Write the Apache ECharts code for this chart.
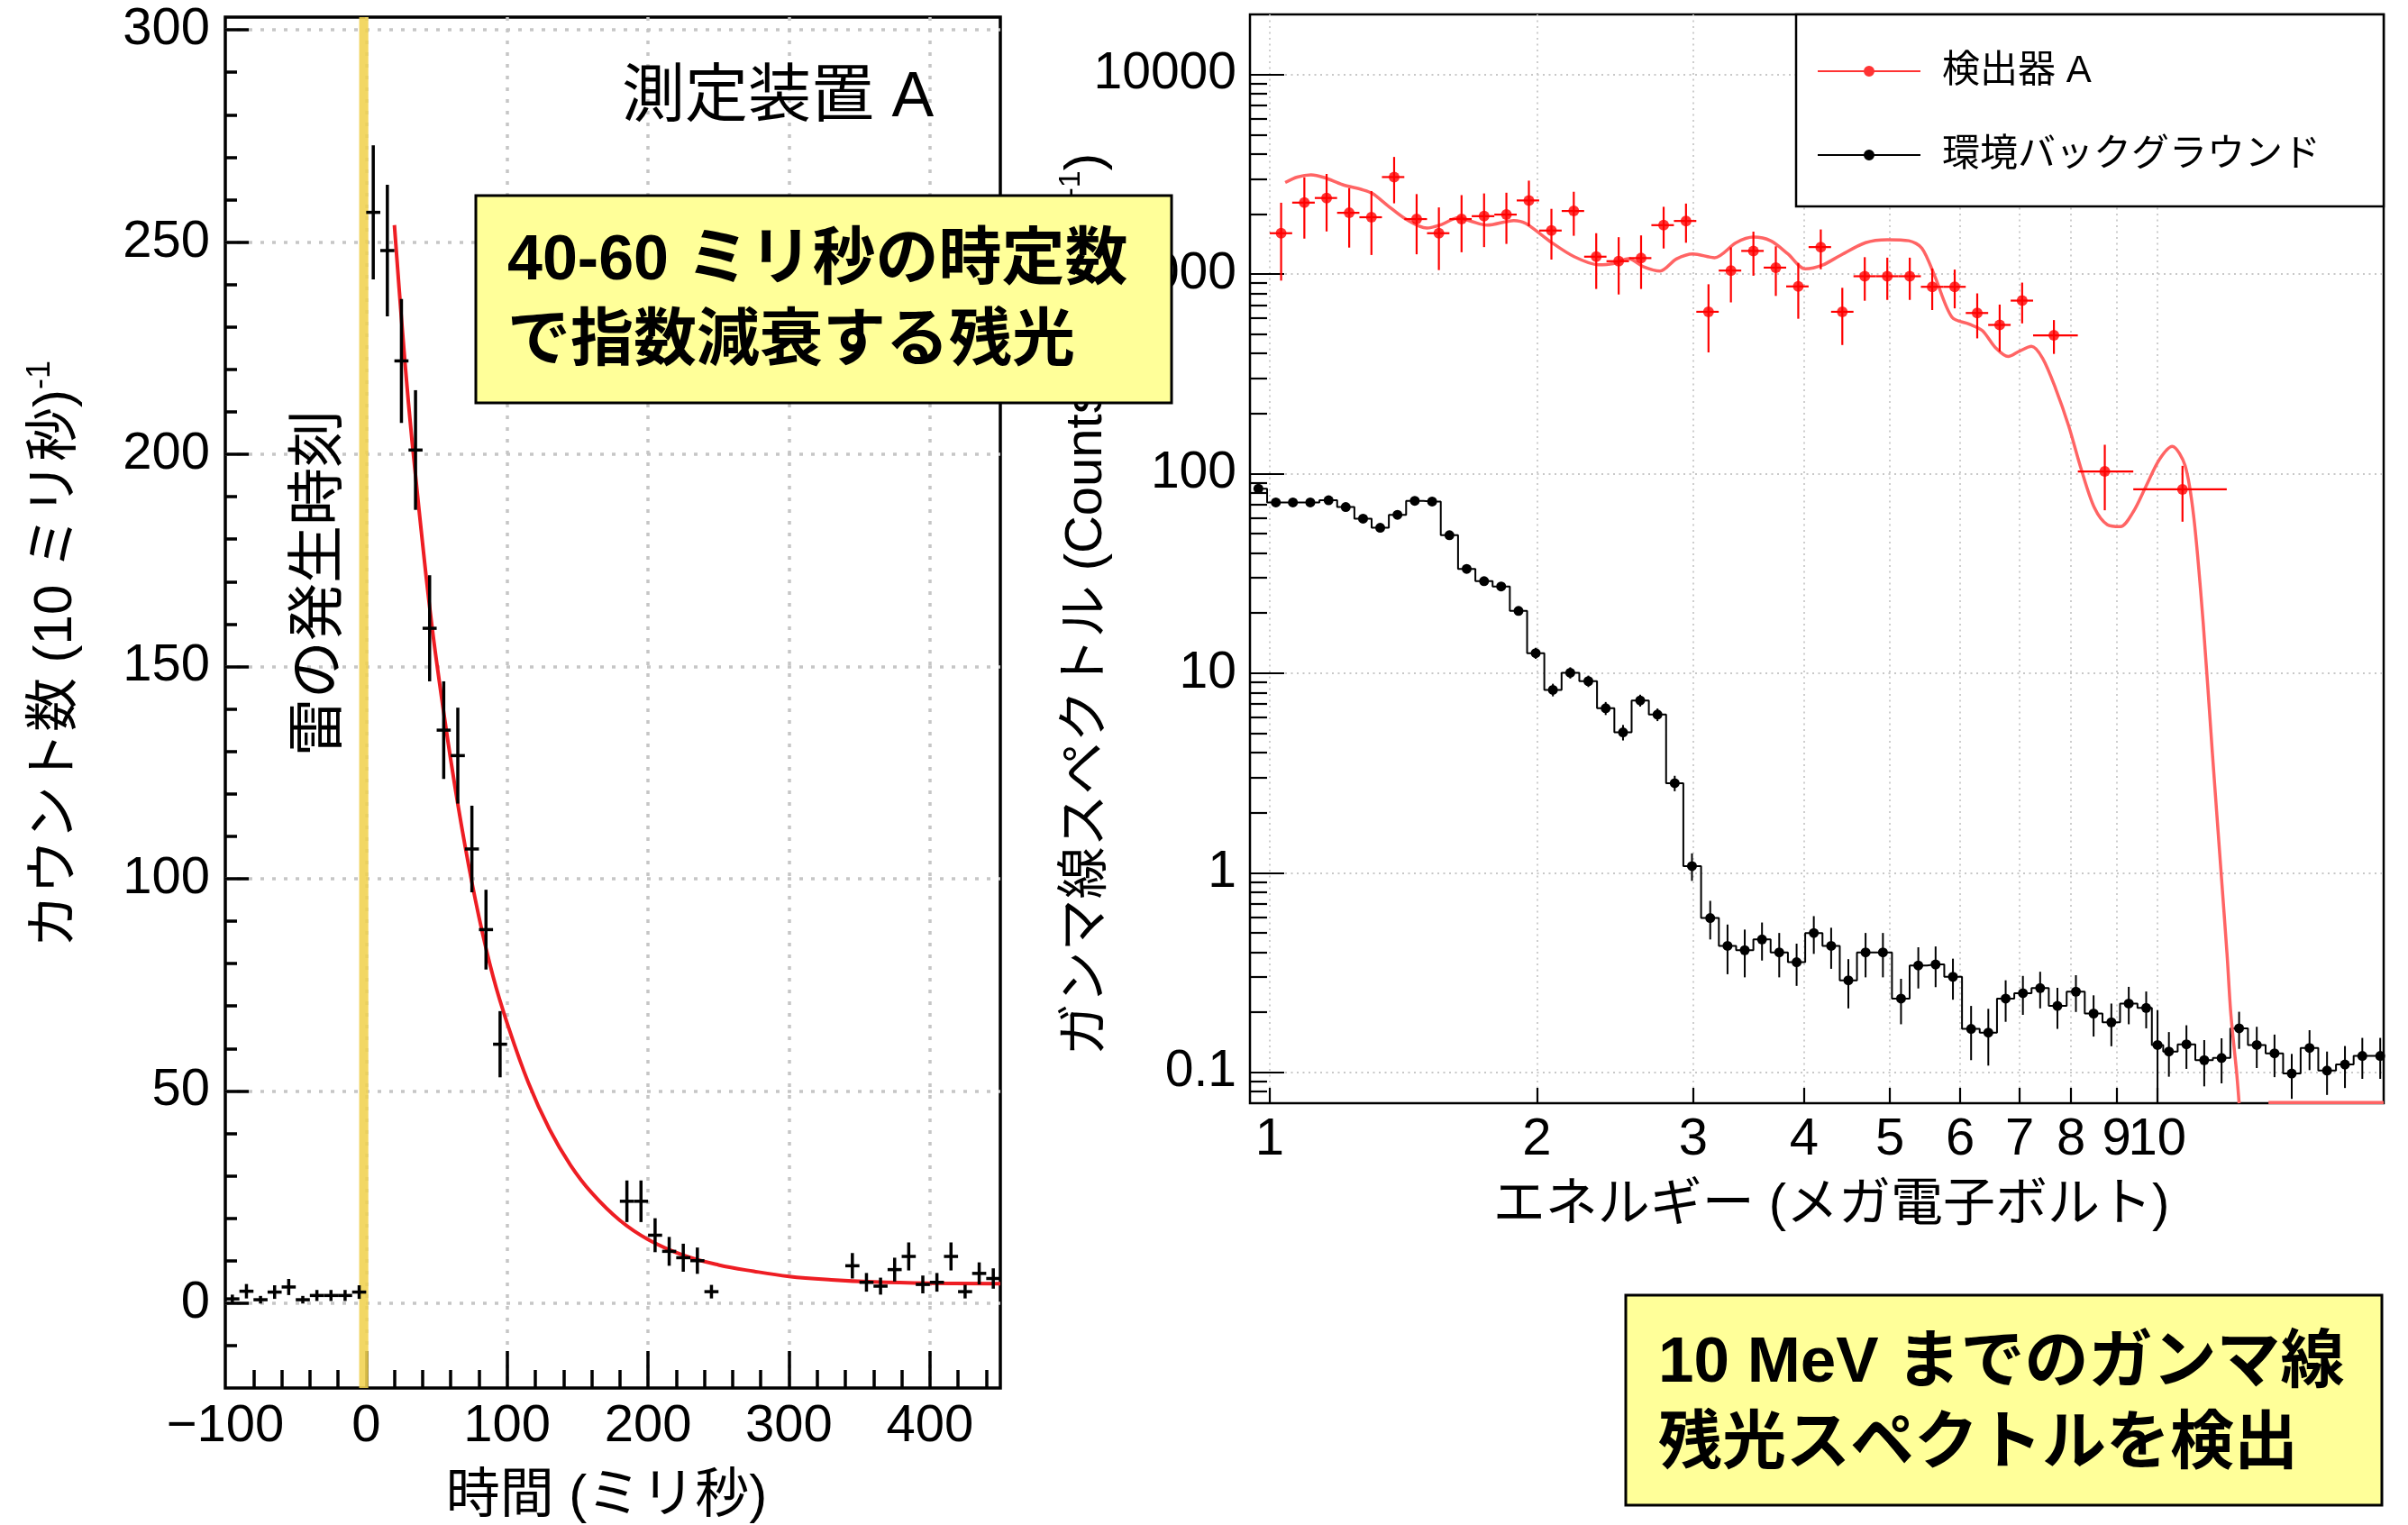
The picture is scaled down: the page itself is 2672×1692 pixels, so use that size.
<!DOCTYPE html>
<html>
<head>
<meta charset="utf-8">
<script src="https://cdn.jsdelivr.net/npm/echarts@6/dist/echarts.min.js"></script>
<style>
html,body{margin:0;padding:0;background:#fff;}
#c{width:2672px;height:1692px;}
</style>
</head>
<body>
<div id="c"></div>
<script>
// ---------- Left panel: light curve (time in ms, counts per 10 ms) ----------
const timeX = [-95,-85,-75,-65,-55,-45,-35,-25,-15,-5, 5,15,25,35,45,55,65,75,85,95, 185,195,205,215,225,235,245, 345,355,365,375,385,395,405,415,425,435,445];
const timeCounts = [1.0,2.8,0.8,2.6,3.8,0.8,1.8,1.8,1.8,2.6, 257,248,222,201,159,135,129,107,88,61, 24,24,16,12.2,10.7,10.0,2.7, 8.8,4.9,4.0,7.9,11.0,4.4,4.9,11.0,2.7,7.0,5.8];
const timeErr = [1.0,1.7,0.9,1.6,1.9,0.9,1.3,1.3,1.3,1.6, 15.8,15.5,14.6,14.1,12.5,11.5,11.3,10.2,9.4,7.8, 4.9,4.9,4.0,3.4,3.3,3.1,1.6, 3.0,2.2,2.0,2.8,3.3,2.1,2.2,3.3,1.6,2.6,2.4];
const BIN_HALF = 5; // 10 ms bins
const fitX = [20,25,30,35,40,45,50,60,70,80,90,100,115,130,145,160,180,200,225,250,275,300,330,360,400,450];
const fitY = [254,232,212,195,179,164,151,128,108,91,77,66,52,41,32.5,26,19.5,15,11.3,9,7.5,6.3,5.5,5.0,4.7,4.6];
const lightningBand = [-5, 1.5];
const leftXLabels = [-100,0,100,200,300,400];
const leftXMajor = [0,100,200,300,400];
const leftXMinor = [-80,-60,-40,-20,20,40,60,80,120,140,160,180,220,240,260,280,320,340,360,380,420,440];
const leftYMajor = [0,50,100,150,200,250,300];
const leftYMinor = [-10,10,20,30,40,60,70,80,90,110,120,130,140,160,170,180,190,210,220,230,240,260,270,280,290];

// ---------- Right panel: spectrum (MeV) ----------
const detE = [1.03,1.094,1.159,1.229,1.302,1.381,1.464,1.551,1.645,1.744,1.848,1.959,2.077,2.201,2.333,2.473,2.621,2.779,2.945,3.122,3.309,3.508,3.718,3.941,4.178,4.418,4.683,4.965,5.263,5.579,5.914,6.270,6.646,7.045,7.65,8.73,10.68];
const detELo = [1.000,1.060,1.124,1.191,1.262,1.338,1.418,1.504,1.594,1.689,1.791,1.898,2.012,2.133,2.261,2.396,2.540,2.692,2.854,3.025,3.206,3.399,3.603,3.819,4.048,4.291,4.548,4.821,5.110,5.417,5.741,6.086,6.451,6.838,7.248,8.14,9.40];
const detEHi = [1.060,1.124,1.191,1.262,1.338,1.418,1.504,1.594,1.689,1.791,1.898,2.012,2.133,2.261,2.396,2.540,2.692,2.854,3.025,3.206,3.399,3.603,3.819,4.048,4.291,4.548,4.821,5.110,5.417,5.741,6.086,6.451,6.838,7.248,8.14,9.40,11.98];
const detCounts = [1602,2280,2405,2027,1926,3062,1886,1602,1886,1950,1986,2338,1652,2070,1222,1160,1202,1758,1845,647,1041,1306,1077,867,1365,647,975,975,975,863,863,638,556,736,493,102.5,83.4];
const detErr = [675,775,770,670,680,800,630,555,600,585,570,600,470,515,380,370,360,415,410,242,320,325,300,270,308,206,240,233,233,203,190,162,147,170,95,37,26];

const curveE = [1.041,1.074,1.113,1.152,1.207,1.275,1.306,1.358,1.423,1.503,1.562,1.631,1.689,1.757,1.884,1.944,2.070,2.203,2.345,2.438,2.536,2.636,2.753,2.872,2.999,3.172,3.354,3.508,3.668,3.836,4.012,4.197,4.389,4.693,4.965,5.251,5.432,5.617,5.873,6.142,6.353,6.570,6.795,6.996,7.218,7.430,7.684,7.947,8.219,8.500,8.790,9.090,9.401,9.723,10.06,10.40,10.75,11.00,11.27,11.54,11.82,11.99,12.11,12.29,12.37,12.9,13.35,18.0];
const curveY = [2877,3061,3140,3044,2808,2637,2530,2204,1886,1699,1771,1917,1834,1758,1854,1790,1456,1222,1113,1128,1193,1090,1035,1189,1262,1208,1436,1531,1468,1262,1062,1109,1236,1436,1486,1468,1347,974,607,561,521,429,386,411,434,378,267,174,104,67.3,55.4,54.2,64.4,87.1,117.8,137,110,60,17.8,4.0,0.93,0.388,0.194,0.10,0.07,null,0.0705,0.0705];

const bgE = [0.971,1.016,1.062,1.111,1.165,1.218,1.274,1.332,1.393,1.457,1.524,1.594,1.667,1.744,1.823,1.907,1.994,2.085,2.181,2.286,2.391,2.501,2.615,2.735,2.860,2.991,3.136,3.280,3.430,3.587,3.751,3.924,4.103,4.292,4.488,4.693,4.909,5.145,5.381,5.628,5.887,6.171,6.453,6.750,7.059,7.382,7.72,8.10,8.48,8.88,9.29,9.72,10.01,10.31,10.79,11.30,11.82,12.37,12.95,13.56,14.18,14.85,15.54,16.28,17.03,17.84];
const bgCounts = [84.0,71.7,71.7,71.7,73.5,68.0,59.5,53.5,62.2,73.0,72.5,49.1,33.3,28.9,27.2,20.5,12.6,8.25,10.05,9.12,6.67,5.05,7.3,6.2,2.81,1.08,0.593,0.430,0.409,0.463,0.399,0.356,0.499,0.430,0.289,0.399,0.399,0.234,0.343,0.347,0.301,0.165,0.158,0.234,0.249,0.264,0.215,0.2535,0.197,0.178,0.221,0.210,0.137,0.127,0.138,0.115,0.118,0.166,0.137,0.1245,0.0986,0.1325,0.102,0.1094,0.1207,0.1207];
const bgErr = [2.5,2,2,2,2,2,1.8,1.7,1.8,2,2,1.5,1.2,1.1,1.1,1.0,0.8,0.6,0.65,0.6,0.5,0.45,0.5,0.45,0.25,0.17,0.13,0.12,0.11,0.10,0.10,0.085,0.107,0.10,0.08,0.10,0.10,0.06,0.08,0.08,0.07,0.05,0.05,0.055,0.055,0.055,0.05,0.053,0.046,0.043,0.047,0.044,0.068,0.032,0.034,0.03,0.03,0.035,0.032,0.03,0.025,0.03,0.025,0.026,0.028,0.028];

const rightXTicks = [1,2,3,4,5,6,7,8,9,10];
const rightXLabelsA = [1,2,3,4,5,6,7,8,9];
const rightXLabelsB = [10];
const rightYMajor = [0.1,1,10,100,1000,10000];
const rightYMinor = [0.08,0.09,0.2,0.3,0.4,0.5,0.6,0.7,0.8,0.9,2,3,4,5,6,7,8,9,20,30,40,50,60,70,80,90,200,300,400,500,600,700,800,900,2000,3000,4000,5000,6000,7000,8000,9000];

// ---------- styling ----------
const FONT_L = "'Liberation Sans', Arial, 'Noto Sans CJK JP', sans-serif";
const FONT_R = "'Liberation Sans Narrow', 'Arial Narrow', 'Liberation Sans', 'Noto Sans CJK JP', sans-serif";
const FONT_JPB = "'Liberation Sans', 'Noto Sans CJK JP', sans-serif";

function makeErrRender(color, width, drawX) {
  return function (params, api) {
    const cs = params.coordSys;
    const x = api.value(0), y = api.value(1);
    const c = api.coord([x, y]);
    const lo = api.coord([x, api.value(4)]);
    const hi = api.coord([x, api.value(5)]);
    const cy = v => Math.max(cs.y, Math.min(cs.y + cs.height, v));
    const cx = v => Math.max(cs.x, Math.min(cs.x + cs.width, v));
    const st = {stroke: color, lineWidth: width};
    const children = [{type: 'line', shape: {x1: c[0], y1: cy(lo[1]), x2: c[0], y2: cy(hi[1])}, style: st}];
    if (drawX) {
      const l = api.coord([api.value(2), y]);
      const r = api.coord([api.value(3), y]);
      children.push({type: 'line', shape: {x1: cx(l[0]), y1: c[1], x2: cx(r[0]), y2: c[1]}, style: st});
    }
    return {type: 'group', children: children};
  };
}

const leftCross = timeX.map((x, i) => [x, timeCounts[i], x - BIN_HALF, x + BIN_HALF, timeCounts[i] - timeErr[i], timeCounts[i] + timeErr[i]]);
const fitData = fitX.map((x, i) => [x, fitY[i]]);
const detData = detE.map((e, i) => [e, detCounts[i], detELo[i], detEHi[i], Math.max(detCounts[i] - detErr[i], 1e-4), detCounts[i] + detErr[i]]);
const detPts = detE.map((e, i) => [e, detCounts[i]]);
const curveData = curveE.map((e, i) => [e, curveY[i]]);
const bgData = bgE.map((e, i) => [e, bgCounts[i]]);
const bgErrData = bgE.map((e, i) => [e, bgCounts[i], e, e, Math.max(bgCounts[i] - bgErr[i], 1e-4), bgCounts[i] + bgErr[i]]);

const gridL = {color: '#c6c6c6', width: 3.5, type: [4, 9]};
const gridR = {color: '#c8c8c8', width: 1.8, type: [2, 4.5]};
const fmtMinus = v => (v < 0 ? '\u2212' + (-v) : String(v));
const fmtLog = v => String(+Number(v).toPrecision(6));
const legendIcon = 'path://M0,9L114,9L114,11L0,11Z M63,10A6,6 0 1 1 51,10A6,6 0 1 1 63,10Z';
const noLine = {show: false, onZero: false};

const chart = echarts.init(document.getElementById('c'), null, {renderer: 'canvas', width: 2672, height: 1692});

const option = {
  animation: false,
  backgroundColor: '#ffffff',
  grid: [
    {left: 250, top: 19, width: 860, height: 1521, show: true, borderColor: '#000', borderWidth: 3.5, backgroundColor: 'transparent', containLabel: false, outerBoundsMode: 'none'},
    {left: 1387, top: 16, width: 1258, height: 1208, show: true, borderColor: '#000', borderWidth: 2.5, backgroundColor: 'transparent', containLabel: false, outerBoundsMode: 'none'}
  ],
  xAxis: [
    {gridIndex: 0, type: 'value', position: 'bottom', min: -100, max: 450,
      axisLine: noLine,
      axisTick: {show: true, inside: true, length: 41, customValues: leftXMajor, lineStyle: {color: '#000', width: 3.5}},
      axisLabel: {show: true, customValues: leftXLabels, formatter: fmtMinus, fontSize: 58, fontFamily: FONT_L, color: '#000', margin: 14, hideOverlap: false},
      splitLine: {show: true, lineStyle: gridL}},
    {gridIndex: 0, type: 'value', position: 'bottom', min: -100, max: 450,
      axisLine: noLine,
      axisTick: {show: true, inside: true, length: 20, customValues: leftXMinor, lineStyle: {color: '#000', width: 3.5}},
      axisLabel: {show: false}, splitLine: {show: false}},
    {gridIndex: 1, type: 'log', logBase: 10, position: 'bottom', min: 0.95, max: 18,
      axisLine: noLine,
      axisTick: {show: true, inside: true, length: 17, customValues: rightXTicks, lineStyle: {color: '#000', width: 2.2}},
      axisLabel: {show: true, customValues: rightXLabelsA, formatter: fmtLog, fontSize: 58, fontFamily: FONT_R, color: '#000', margin: 12, hideOverlap: false},
      splitLine: {show: true, lineStyle: gridR}, minorTick: {show: false}, minorSplitLine: {show: false}},
    {gridIndex: 1, type: 'log', logBase: 10, position: 'bottom', min: 0.95, max: 18,
      axisLine: noLine,
      axisTick: {show: false},
      axisLabel: {show: true, customValues: rightXLabelsB, formatter: fmtLog, fontSize: 58, fontFamily: FONT_R, color: '#000', margin: 12, hideOverlap: false},
      splitLine: {show: false}}
  ],
  yAxis: [
    {gridIndex: 0, type: 'value', position: 'left', min: -20, max: 303,
      axisLine: noLine,
      axisTick: {show: true, inside: true, length: 26, customValues: leftYMajor, lineStyle: {color: '#000', width: 3.5}},
      axisLabel: {show: true, customValues: leftYMajor, formatter: fmtMinus, fontSize: 58, fontFamily: FONT_L, color: '#000', margin: 17, hideOverlap: false},
      splitLine: {show: true, lineStyle: gridL}},
    {gridIndex: 0, type: 'value', position: 'left', min: -20, max: 303,
      axisLine: noLine,
      axisTick: {show: true, inside: true, length: 13, customValues: leftYMinor, lineStyle: {color: '#000', width: 3.5}},
      axisLabel: {show: false}, splitLine: {show: false}},
    {gridIndex: 1, type: 'log', logBase: 10, position: 'left', min: 0.07, max: 20000,
      axisLine: noLine,
      axisTick: {show: true, inside: true, length: 38, customValues: rightYMajor, lineStyle: {color: '#000', width: 2.2}},
      axisLabel: {show: true, customValues: rightYMajor, formatter: fmtLog, fontSize: 57, fontFamily: FONT_R, color: '#000', margin: 15, hideOverlap: false},
      splitLine: {show: true, lineStyle: gridR}, minorTick: {show: false}, minorSplitLine: {show: false}},
    {gridIndex: 1, type: 'log', logBase: 10, position: 'left', min: 0.07, max: 20000,
      axisLine: noLine,
      axisTick: {show: true, inside: true, length: 19, customValues: rightYMinor, lineStyle: {color: '#000', width: 2.2}},
      axisLabel: {show: false}, splitLine: {show: false}}
  ],
  legend: {
    show: true, orient: 'vertical', left: 2017, top: 57, padding: 0,
    itemWidth: 114, itemHeight: 20, itemGap: 49, selectedMode: false,
    textStyle: {fontSize: 42, fontFamily: FONT_R, color: '#000', lineHeight: 44, padding: [0, 0, 0, 19]},
    data: [{name: '検出器 A', icon: legendIcon}, {name: '環境バックグラウンド', icon: legendIcon}]
  },
  series: [
    {name: '指数関数フィット', type: 'line', xAxisIndex: 0, yAxisIndex: 0, data: fitData,
      smooth: 0.4, showSymbol: false, symbol: 'none', z: 3,
      lineStyle: {color: '#ee1d23', width: 4}, itemStyle: {color: '#ee1d23'},
      markArea: {silent: true, itemStyle: {color: 'rgba(240,210,78,0.88)'},
        data: [[{xAxis: lightningBand[0]}, {xAxis: lightningBand[1]}]]}},
    {name: 'カウント数', type: 'custom', xAxisIndex: 0, yAxisIndex: 0, z: 4,
      dimensions: ['x', 'y', 'xl', 'xh', 'yl', 'yh'], encode: {x: 0, y: 1},
      renderItem: makeErrRender('#000', 3.5, true), data: leftCross},
    {name: '環境バックグラウンド', type: 'line', xAxisIndex: 2, yAxisIndex: 2, data: bgData,
      step: 'middle', symbol: 'circle', symbolSize: 11, showSymbol: true, z: 3,
      lineStyle: {color: '#000', width: 2}, itemStyle: {color: '#000'}},
    {name: '環境バックグラウンド誤差', type: 'custom', xAxisIndex: 2, yAxisIndex: 2, z: 3,
      dimensions: ['x', 'y', 'xl', 'xh', 'yl', 'yh'], encode: {x: 0, y: 1},
      renderItem: makeErrRender('#000', 2, false), data: bgErrData},
    {name: '検出器 A モデル', type: 'line', xAxisIndex: 2, yAxisIndex: 2, data: curveData,
      smooth: 0.3, showSymbol: false, symbol: 'none', connectNulls: false, z: 5,
      lineStyle: {color: '#ff6464', width: 3.5}, itemStyle: {color: '#ff6464'}},
    {name: '検出器 A 誤差', type: 'custom', xAxisIndex: 2, yAxisIndex: 2, z: 6,
      dimensions: ['x', 'y', 'xl', 'xh', 'yl', 'yh'], encode: {x: 0, y: 1},
      renderItem: makeErrRender('#ff0000', 2.2, true), data: detData},
    {name: '検出器 A', type: 'scatter', xAxisIndex: 2, yAxisIndex: 2, data: detPts,
      symbol: 'circle', symbolSize: 12, z: 7, itemStyle: {color: '#ff0000'}}
  ],
  graphic: {elements: [
    {type: 'rect', z: 3, shape: {x: 1993, y: 16, width: 652, height: 213}, style: {fill: '#ffffff', stroke: '#000', lineWidth: 2.5}},
    {type: 'text', x: 690, y: 110, z: 5, style: {text: '測定装置 A', fontSize: 70, fontFamily: FONT_L, fill: '#000', align: 'left', verticalAlign: 'middle'}},
    {type: 'text', x: 355, y: 647, rotation: Math.PI / 2, z: 5, style: {text: '雷の発生時刻', fontSize: 64, fontFamily: FONT_L, fill: '#000', align: 'center', verticalAlign: 'middle'}},
    {type: 'text', x: 62, y: 400, rotation: Math.PI / 2, z: 5, style: {
      text: '{m|カウント数 (10 ミリ秒)}{s|-1}', align: 'right', verticalAlign: 'middle',
      rich: {m: {fontSize: 60, fontFamily: FONT_L, fill: '#000', color: '#000', lineHeight: 70},
             s: {fontSize: 36, fontFamily: FONT_L, fill: '#000', color: '#000', verticalAlign: 'top', lineHeight: 70}}}},
    {type: 'text', x: 673, y: 1661, z: 5, style: {text: '時間 (ミリ秒)', fontSize: 60, fontFamily: FONT_L, fill: '#000', align: 'center', verticalAlign: 'middle'}},
    {type: 'text', x: 1206, y: 170, rotation: Math.PI / 2, z: 5, style: {
      text: '{m|ガンマ線スペクトル (Counts s}{s|-1}{m| MeV}{s|-1}{m|)}', align: 'right', verticalAlign: 'middle',
      rich: {m: {fontSize: 58, fontFamily: FONT_R, fill: '#000', color: '#000', lineHeight: 68},
             s: {fontSize: 34, fontFamily: FONT_R, fill: '#000', color: '#000', verticalAlign: 'top', lineHeight: 68}}}},
    {type: 'text', x: 2032, y: 1338, z: 5, style: {text: 'エネルギー (メガ電子ボルト)', fontSize: 58, fontFamily: FONT_R, fill: '#000', align: 'center', verticalAlign: 'middle'}},
    {type: 'rect', z: 20, shape: {x: 528, y: 217, width: 772, height: 230}, style: {fill: '#ffff99', stroke: '#000', lineWidth: 3}},
    {type: 'text', x: 563, y: 291, z: 21, style: {text: '40-60 ミリ秒の時定数', fontSize: 70, fontWeight: 'bold', fontFamily: FONT_JPB, fill: '#000', align: 'left', verticalAlign: 'middle'}},
    {type: 'text', x: 563, y: 381, z: 21, style: {text: 'で指数減衰する残光', fontSize: 70, fontWeight: 'bold', fontFamily: FONT_JPB, fill: '#000', align: 'left', verticalAlign: 'middle'}},
    {type: 'rect', z: 20, shape: {x: 1804, y: 1437, width: 839, height: 233}, style: {fill: '#ffff99', stroke: '#000', lineWidth: 3}},
    {type: 'text', x: 1840, y: 1513, z: 21, style: {text: '10 MeV までのガンマ線', fontSize: 71, fontWeight: 'bold', fontFamily: FONT_JPB, fill: '#000', align: 'left', verticalAlign: 'middle'}},
    {type: 'text', x: 1840, y: 1603, z: 21, style: {text: '残光スペクトルを検出', fontSize: 71, fontWeight: 'bold', fontFamily: FONT_JPB, fill: '#000', align: 'left', verticalAlign: 'middle'}}
  ]}
};
chart.setOption(option);
</script>
</body>
</html>
